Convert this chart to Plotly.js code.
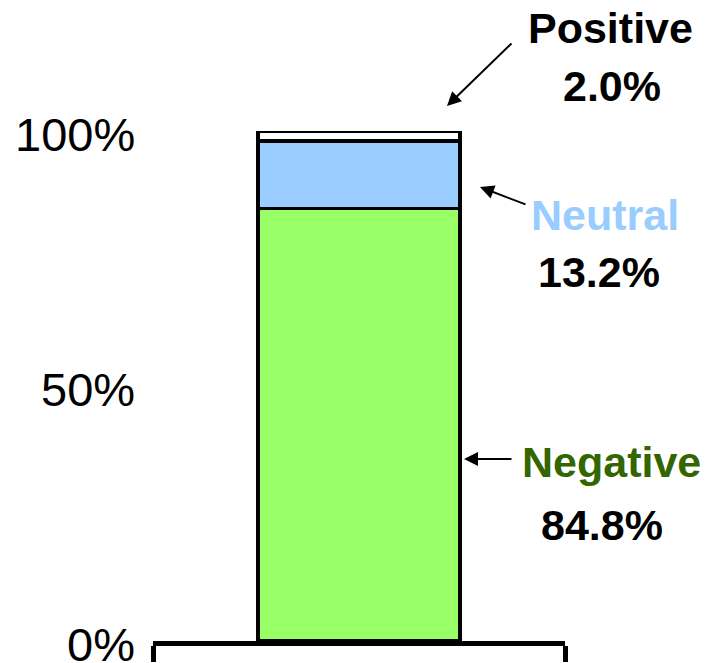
<!DOCTYPE html>
<html>
<head>
<meta charset="utf-8">
<script src="https://cdn.plot.ly/plotly-3.0.1.min.js"></script>
<style>html,body{margin:0;padding:0;background:#fff;}#chart{width:713px;height:663px;}</style>
</head>
<body>
<div id="chart"></div>
<script>
// Data
const category = ["Sentiment"];
const seriesNames = ["Negative", "Neutral", "Positive"];
const negativeValues = [84.8];
const neutralValues = [13.2];
const positiveValues = [2.0];
const yTickValues = [0, 50, 100];
const yTickLabels = ["0%", "50%", "100%"];

const barColors = ["#99FF66", "#99CCFF", "#FFFFFF"];
const labelColors = ["#336600", "#99CCFF", "#000000"];
const seriesValues = [negativeValues, neutralValues, positiveValues];

const traces = seriesNames.map((name, i) => ({
  type: "bar",
  name: name,
  x: category,
  y: seriesValues[i],
  width: 0.49,
  cliponaxis: false,
  marker: { color: barColors[i], line: { color: "#000000", width: 3.5 } },
  hoverinfo: "skip"
}));

const FONT = "Liberation Sans, Arial, sans-serif";
// plot area pixel geometry helpers for annotation placement
const L = 153, R = 565, T = 131, B = 641;
const px = v => (v - L) / (R - L);
const py = v => (B - v) / (B - T);

// label positions [name center, value center, arrow tip, arrow offset]
const labelLayout = [
  { nx: 611, ny: 462, vx: 602, vy: 525, tip: [464, 459], off: [49, 0] },
  { nx: 605, ny: 215, vx: 599, vy: 272, tip: [480, 187], off: [47, 18] },
  { nx: 610, ny: 28,  vx: 612, vy: 86,  tip: [447, 106], off: [66, -64] }
];

const annotations = [];
// y tick labels (drawn slightly below their tick positions, as in the reference)
yTickValues.forEach((v, i) => {
  annotations.push({
    xref: "paper", yref: "y", x: 0, y: v,
    xanchor: "right", yanchor: "middle", xshift: -16, yshift: -3,
    showarrow: false, text: yTickLabels[i],
    font: { family: FONT, size: 47, color: "#000000" }
  });
});
seriesNames.forEach((name, i) => {
  const p = labelLayout[i];
  annotations.push({
    xref: "paper", yref: "paper", x: px(p.nx), y: py(p.ny),
    xanchor: "center", yanchor: "middle", showarrow: false,
    text: "<b>" + name + "</b>",
    font: { family: FONT, size: 43, color: labelColors[i] }
  });
  annotations.push({
    xref: "paper", yref: "paper", x: px(p.vx), y: py(p.vy),
    xanchor: "center", yanchor: "middle", showarrow: false,
    text: "<b>" + seriesValues[i][0].toFixed(1) + "%</b>",
    font: { family: FONT, size: 43, color: "#000000" }
  });
  annotations.push({
    xref: "paper", yref: "paper", x: px(p.tip[0]), y: py(p.tip[1]),
    text: "", showarrow: true, arrowhead: 2, arrowsize: 1.4, arrowwidth: 2,
    arrowcolor: "#000000", ax: p.off[0], ay: p.off[1], standoff: 0
  });
});

const layout = {
  width: 713, height: 663,
  margin: { l: L, r: 713 - R, t: T, b: 663 - B },
  paper_bgcolor: "#ffffff", plot_bgcolor: "#ffffff",
  barmode: "stack",
  showlegend: false,
  xaxis: {
    type: "category",
    range: [-0.5, 0.5],
    showticklabels: false,
    showline: true, linecolor: "#000000", linewidth: 5,
    ticks: "outside", tickson: "boundaries", ticklen: 16, tickwidth: 5, tickcolor: "#000000",
    showgrid: false, zeroline: false, fixedrange: true
  },
  yaxis: {
    range: [0, 100],
    tickvals: yTickValues,
    showticklabels: false,
    ticks: "", showline: false, showgrid: false, zeroline: false,
    fixedrange: true
  },
  annotations: annotations
};

Plotly.newPlot("chart", traces, layout, { displayModeBar: false, staticPlot: true });
</script>
</body>
</html>
